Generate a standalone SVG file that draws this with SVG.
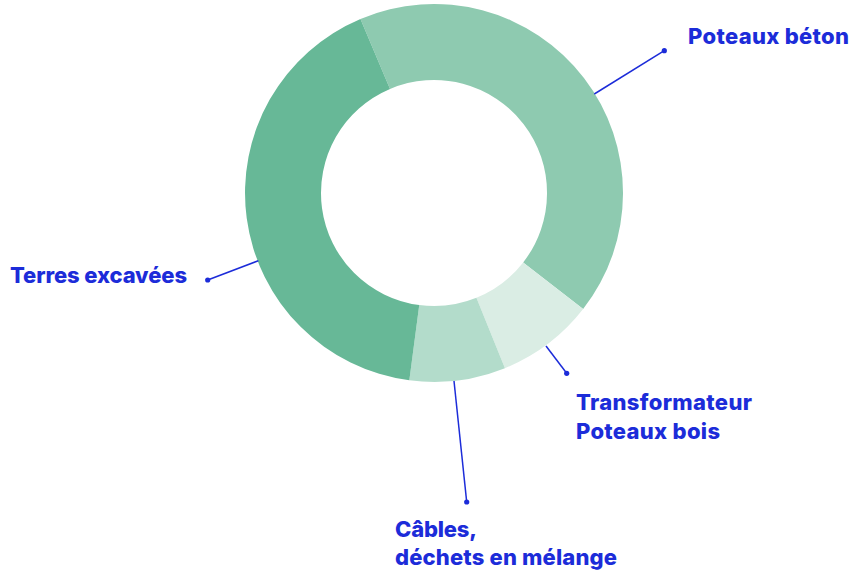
<svg xmlns="http://www.w3.org/2000/svg" width="852" height="573" viewBox="0 0 852 573">
<style>
.lbl{font-family:Inter,"Liberation Sans",Arial,sans-serif;font-weight:800;font-size:22px;fill:#1c2cd9}
.lead{stroke:#1c2cd9;stroke-width:1.5;fill:none}
.dot{fill:#1c2cd9}
</style>
<rect width="852" height="573" fill="#ffffff"/>
<g id="seg-poteaux-beton"><path d="M 360.46 18.89 A 189 189 0 0 1 583.14 309.10 L 523.17 262.42 A 113 113 0 0 0 390.03 88.90 Z" fill="#8ecab0"/></g>
<g id="seg-transformateur"><path d="M 583.14 309.10 A 189 189 0 0 1 504.95 368.18 L 476.42 297.74 A 113 113 0 0 0 523.17 262.42 Z" fill="#daede4"/></g>
<g id="seg-cables"><path d="M 504.95 368.18 A 189 189 0 0 1 409.33 380.37 L 419.25 305.03 A 113 113 0 0 0 476.42 297.74 Z" fill="#b3dccb"/></g>
<g id="seg-terres"><path d="M 409.33 380.37 A 189 189 0 0 1 360.46 18.89 L 390.03 88.90 A 113 113 0 0 0 419.25 305.03 Z" fill="#67b897"/></g>
<g id="connectors">
<line class="lead" x1="594.3" y1="94" x2="664.3" y2="50.7"/><circle class="dot" cx="664.3" cy="50.7" r="2.6"/>
<line class="lead" x1="258.3" y1="260.7" x2="207.7" y2="280"/><circle class="dot" cx="207.7" cy="280" r="2.6"/>
<line class="lead" x1="546" y1="346" x2="566.7" y2="373.3"/><circle class="dot" cx="566.7" cy="373.3" r="2.6"/>
<line class="lead" x1="454" y1="381" x2="466.7" y2="502"/><circle class="dot" cx="466.7" cy="502" r="2.6"/>
</g>
<g id="label-poteaux-beton"><text class="lbl" x="688" y="44" textLength="161">Poteaux béton</text></g>
<g id="label-terres"><text class="lbl" x="10" y="283" textLength="177">Terres excavées</text></g>
<g id="label-transformateur"><text class="lbl" x="576" y="410" textLength="176">Transformateur</text><text class="lbl" x="576" y="439" textLength="144">Poteaux bois</text></g>
<g id="label-cables"><text class="lbl" x="395" y="537" textLength="82">Câbles,</text><text class="lbl" x="395" y="565" textLength="222">déchets en mélange</text></g>
</svg>
